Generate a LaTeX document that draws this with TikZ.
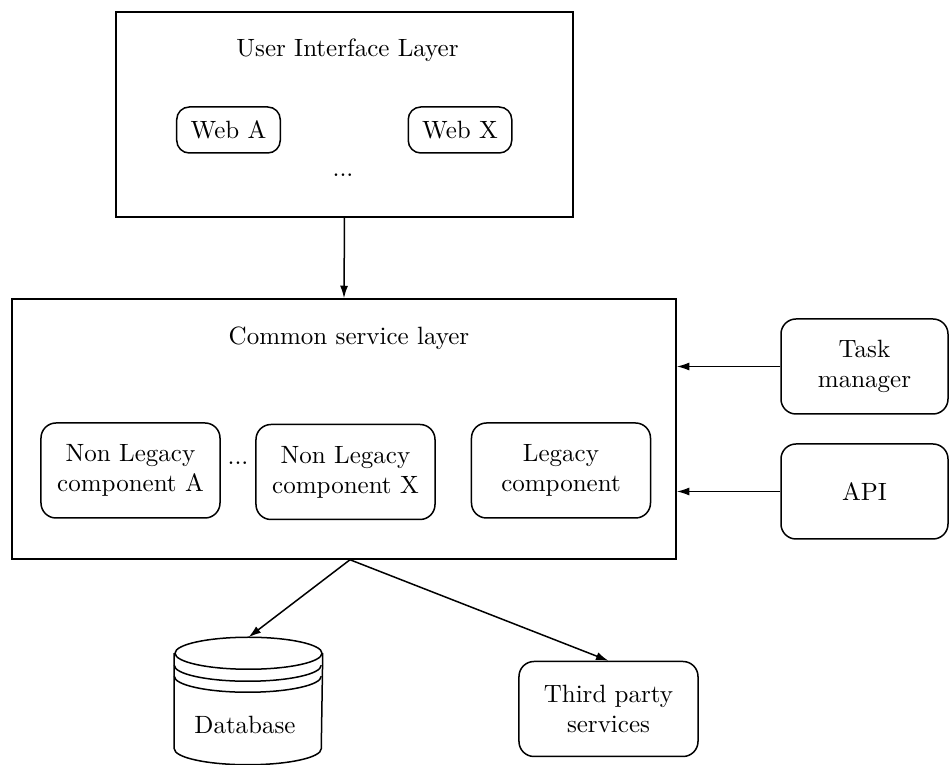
\documentclass[tikz,border=0pt]{standalone}
\usetikzlibrary{arrows.meta,calc}
\begin{document}
\begin{tikzpicture}[x=0.4pt,y=-0.4pt,
  line width=0.6pt,
  layerbox/.style={draw, rectangle, inner sep=0pt},
  compbox/.style={draw, rounded corners=6pt, align=center, inner sep=0pt,
    minimum width=71.6pt, minimum height=38pt},
  webbox/.style={draw, rounded corners=5pt, inner sep=0pt,
    minimum width=41.4pt, minimum height=18.4pt},
  flow/.style={-{Latex[length=5pt,width=3.2pt]}},
  every node/.style={font=\normalsize}]
\useasboundingbox (0,0) rectangle (949,765);

% user interface layer
\node[layerbox, minimum width=182.8pt, minimum height=82pt] (ui) at (344.5,114.5) {};
\node (uititle) at (347.5,50) {User Interface Layer};
\node[webbox] (weba) at (228.5,130) {Web A};
\node[webbox] (webx) at (460,130) {Web X};
\node (uidots) at (343,175) {...};

% common service layer
\node[layerbox, minimum width=265.6pt, minimum height=104pt] (common) at (344,429) {};
\node (cstitle) at (349,338) {Common service layer};
\node[compbox] (nla) at (130.5,470.5) {Non Legacy\\component A};
\node (csdots) at (238,463) {...};
\node[compbox] (nlx) at (345.5,472) {Non Legacy\\component X};
\node[compbox] (legacy) at (561,470.5) {Legacy\\component};

% external callers
\node[compbox, minimum width=66.8pt] (task) at (864.5,366.5) {Task\\manager};
\node[compbox, minimum width=66.8pt] (api) at (864.5,491.5) {API};

% storage and third party
\node[inner sep=0pt, minimum width=58.8pt, minimum height=50.4pt] (dbbox) at (248.5,701) {};
\node (db) at (245,725) {Database};
\node[compbox] (third) at (608.5,709) {Third party\\services};

% database cylinder
\draw ($(dbbox.north)+(0,16)$) ellipse[x radius=29.4pt, y radius=6.4pt];
\draw ($(dbbox.north west)+(0,16)$) -- ($(dbbox.south west)+(0,-16)$)
      arc[start angle=180, end angle=360, x radius=29.4pt, y radius=6.4pt]
      -- ($(dbbox.north east)+(0,16)$);
\draw ($(dbbox.north west)+(0,28)$)
      arc[start angle=180, end angle=360, x radius=29.4pt, y radius=6.4pt];
\draw ($(dbbox.north west)+(0,39)$)
      arc[start angle=180, end angle=360, x radius=29.4pt, y radius=6.4pt];

% connectors
\coordinate (csout) at ($(common.south)+(6,0)$);
\draw[flow] (ui.south) -- (common.north);
\draw[flow] (task.west) -- (task.west -| common.east);
\draw[flow] (api.west) -- (api.west -| common.east);
\draw[flow] (csout) -- (dbbox.north);
\draw[flow] (csout) -- (third.north);
\end{tikzpicture}
\end{document}
